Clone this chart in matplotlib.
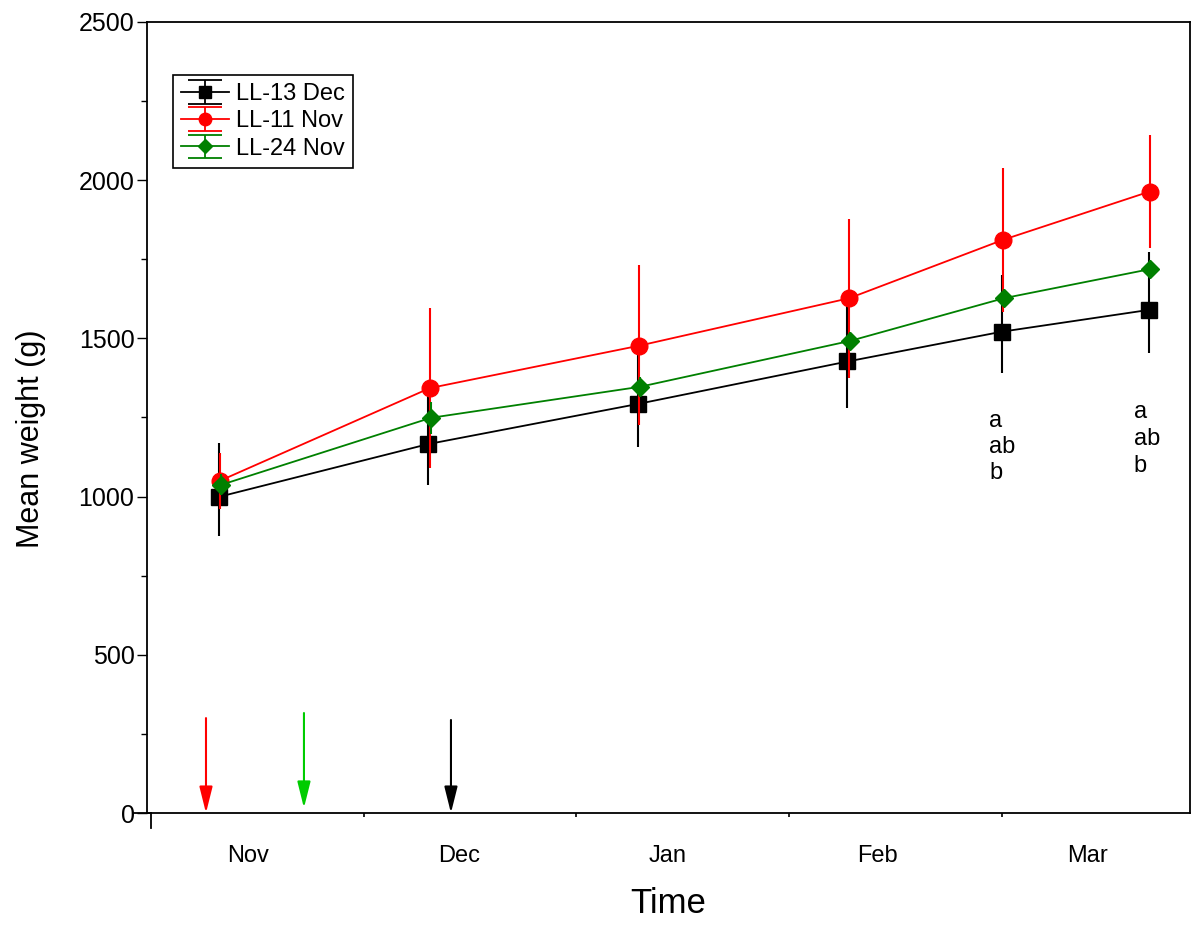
import matplotlib
matplotlib.use("Agg")
import matplotlib.pyplot as plt
from matplotlib.transforms import blended_transform_factory
import numpy as np

plt.rcParams['font.family'] = ['Liberation Sans', 'DejaVu Sans']

# ---- data (x in month units: 0 = start of Nov) ----
month_labels = ["Nov", "Dec", "Jan", "Feb", "Mar"]
month_label_pos = [0.456, 1.448, 2.430, 3.417, 4.400]
month_ticks = [1, 2, 3, 4]

series_names = ["LL-13 Dec", "LL-11 Nov", "LL-24 Nov"]

x_black = [0.318, 1.303, 2.290, 3.274, 3.998, 4.690]
black_mean = [999, 1166, 1293, 1427, 1521, 1590]
black_upper = [1169, 1336, 1463, 1602, 1700, 1774]
black_lower = [875, 1037, 1158, 1279, 1390, 1453]

x_red = [0.324, 1.311, 2.295, 3.282, 4.003, 4.694]
red_mean = [1050, 1343, 1477, 1627, 1811, 1964]
red_upper = [1138, 1596, 1732, 1876, 2037, 2143]
red_lower = [961, 1090, 1226, 1374, 1584, 1785]

x_green = [0.329, 1.316, 2.298, 3.286, 4.009, 4.697]
green_mean = [1037, 1249, 1347, 1492, 1627, 1719]
green_upper = [1070, 1300, 1379, 1521, 1655, 1748]
green_lower = [1004, 1198, 1315, 1463, 1599, 1690]

arrow_x = [0.2585, 0.719, 1.41]
arrow_top = [300, 316, 294]
arrow_tip = [0, 16, 0]
arrow_colors = ["#ff0000", "#00cc00", "#000000"]

letters = ["a", "ab", "b"]
letter_groups_x = [3.939, 4.620]
letter_groups_y = [[1221, 1138, 1056], [1248, 1163, 1079]]

# ---- figure ----
fig = plt.figure(figsize=(12, 9.34), dpi=100)
ax = fig.add_axes([0.1225, 0.12955, 0.99167 - 0.1225, 0.97645 - 0.12955])

styles = [
    dict(x=x_black, m=black_mean, up=black_upper, lo=black_lower, c="black", mk="s", ms=12),
    dict(x=x_red, m=red_mean, up=red_upper, lo=red_lower, c="#ff0000", mk="o", ms=12),
    dict(x=x_green, m=green_mean, up=green_upper, lo=green_lower, c="#008000", mk="D", ms=9),
]
handles = []
for i, s in enumerate(styles):
    m = np.array(s["m"])
    yerr = [m - np.array(s["lo"]), np.array(s["up"]) - m]
    ax.errorbar(s["x"], m, yerr=yerr, color=s["c"], marker=s["mk"], ms=s["ms"],
                lw=1.3, elinewidth=1.5, capsize=0, zorder=3 + i,
                markeredgecolor=s["c"])
    # legend proxy with caps
    h = ax.errorbar([np.nan], [np.nan], yerr=[[1], [1]], color=s["c"], marker=s["mk"],
                    ms=s["ms"] * 0.75, lw=1.3, elinewidth=1.3, capsize=12, capthick=1.3)
    handles.append(h)

for xa, yt, yb, col in zip(arrow_x, arrow_top, arrow_tip, arrow_colors):
    ax.annotate("", xy=(xa, yb), xytext=(xa, yt),
                arrowprops=dict(arrowstyle="-|>,head_length=1.6,head_width=0.4",
                                color=col, lw=1.5, shrinkA=0, shrinkB=0,
                                mutation_scale=10))

for gx, gys in zip(letter_groups_x, letter_groups_y):
    for lt, gy in zip(letters, gys):
        ax.text(gx, gy, lt, fontsize=17, ha="left", va="baseline")

ax.set_xlim(-0.0188, 4.884)
ax.set_ylim(0, 2500)

ax.set_yticks([0, 500, 1000, 1500, 2000, 2500])
ax.set_yticks(np.arange(250, 2500, 500), minor=True)
ax.tick_params(axis="y", which="major", direction="out", length=7, width=1, labelsize=18, pad=2)
ax.tick_params(axis="y", which="minor", direction="out", length=4, width=1)

ax.set_xticks(month_ticks)
ax.set_xticklabels([])
ax.set_xticks(month_label_pos, month_labels, minor=True)
ax.tick_params(axis="x", which="major", direction="out", length=3, width=1.2)
ax.tick_params(axis="x", which="minor", length=0, labelsize=17, pad=23)

for sp in ax.spines.values():
    sp.set_linewidth(1.3)

trans = blended_transform_factory(ax.transData, ax.transAxes)
ax.plot([0, 0], [0, -0.019], transform=trans, color="black", lw=1.3, clip_on=False)
ax.plot([-0.08, 0], [0, 0], transform=trans, color="black", lw=1.3, clip_on=False)

ax.set_ylabel("Mean weight (g)", fontsize=22)
ax.yaxis.set_label_coords(-0.097, 0.473)
ax.set_xlabel("Time", fontsize=25)
ax.xaxis.set_label_coords(0.5, -0.093)

leg = ax.legend(handles, series_names, loc="upper left", bbox_to_anchor=(0.025, 0.933),
                borderaxespad=0, fancybox=False, framealpha=1, edgecolor="black",
                fontsize=17, handlelength=2.0, handletextpad=0.3, labelspacing=0.22,
                borderpad=0.35)
leg.get_frame().set_linewidth(1.2)

fig.savefig("out.png", dpi=100)
